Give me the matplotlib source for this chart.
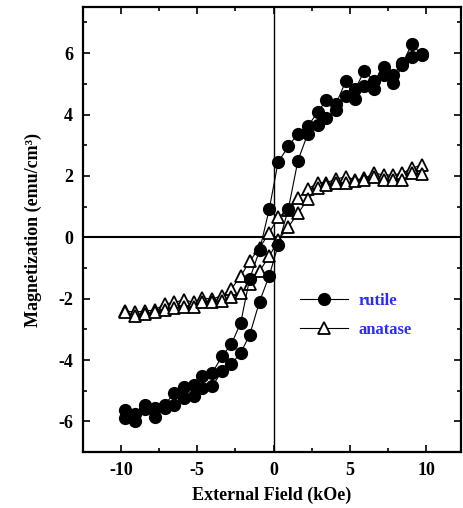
import matplotlib
matplotlib.use("Agg")
import matplotlib.pyplot as plt
from matplotlib.ticker import MultipleLocator

plt.rcParams["font.family"] = ["Liberation Serif", "DejaVu Serif"]
plt.rcParams["font.weight"] = "bold"
plt.rcParams["axes.unicode_minus"] = False

# field values (kOe), shared by all branches
field = [-9.74, -9.08, -8.43, -7.78, -7.12, -6.5, -5.87, -5.22, -4.67, -4.02,
         -3.37, -2.77, -2.15, -1.57, -0.92, -0.28, 0.3, 0.97, 1.6, 2.25,
         2.9, 3.45, 4.1, 4.75, 5.35, 5.95, 6.6, 7.25, 7.85, 8.45, 9.08, 9.72]

rutile_up = [-5.62, -5.75, -5.45, -5.55, -5.45, -5.07, -4.89, -4.82, -4.52, -4.42,
             -3.87, -3.49, -2.78, -1.36, -0.43, 0.92, 2.45, 2.96, 3.38, 3.62,
             4.08, 4.47, 4.35, 5.1, 4.82, 5.42, 5.1, 5.56, 5.3, 5.67, 6.3, 5.93]
rutile_down = [-5.9, -6.0, -5.6, -5.84, -5.55, -5.45, -5.24, -5.18, -4.9, -4.85,
               -4.36, -4.14, -3.76, -3.19, -2.1, -1.25, -0.26, 0.92, 2.5, 3.38,
               3.67, 3.89, 4.16, 4.6, 4.49, 4.93, 4.82, 5.3, 5.04, 5.6, 5.86, 5.97]

anatase_up = [-2.4, -2.44, -2.4, -2.37, -2.17, -2.12, -2.04, -2.12, -1.98, -2.01,
              -1.9, -1.68, -1.27, -0.78, -0.35, 0.15, 0.65, 0.9, 1.27, 1.57,
              1.78, 1.78, 1.89, 1.98, 1.87, 1.92, 2.09, 2.03, 2.03, 2.09, 2.25, 2.36]
anatase_down = [-2.45, -2.55, -2.5, -2.45, -2.37, -2.3, -2.26, -2.26, -2.1, -2.1,
                -2.07, -1.95, -1.82, -1.52, -1.1, -0.62, -0.1, 0.34, 0.78, 1.24,
                1.6, 1.72, 1.76, 1.78, 1.82, 1.87, 1.95, 1.87, 1.87, 1.87, 2.09, 2.07]

fig = plt.figure(figsize=(4.63, 5.08), dpi=100)
ax = fig.add_axes([0.179, 0.110, 0.817, 0.876])

ax.axhline(0, color="black", lw=1.5, zorder=1)
ax.axvline(0, color="black", lw=1.0, zorder=1)

tri = dict(marker="^", ms=8.5, mfc="white", mec="black", mew=1.3,
           color="black", lw=0.8, zorder=2)
circ = dict(marker="o", ms=8.5, mfc="black", mec="black",
            color="black", lw=0.8, zorder=3)

ax.plot(field, anatase_up, **tri)
ax.plot(field, anatase_down, **tri)
ax.plot(field, rutile_up, label="rutile", **circ)
ax.plot(field, rutile_down, **circ)
ax.plot([], [], label="anatase", **tri)

ax.set_xlim(-12.5, 12.3)
ax.set_ylim(-7, 7.5)
ax.xaxis.set_major_locator(MultipleLocator(5))
ax.xaxis.set_minor_locator(MultipleLocator(2.5))
ax.yaxis.set_major_locator(MultipleLocator(2))
ax.yaxis.set_minor_locator(MultipleLocator(1))
ax.tick_params(which="both", direction="in", top=True, right=True,
               labelsize=13, width=1.2, pad=7)
ax.tick_params(which="major", length=5)
ax.tick_params(which="minor", length=3)
for s in ax.spines.values():
    s.set_linewidth(1.6)

ax.set_xlabel("External Field (kOe)", fontsize=13, fontweight="bold", labelpad=6)
ax.set_ylabel("Magnetization (emu/cm³)", fontsize=13, fontweight="bold",
              labelpad=12)

ax.legend(loc="upper left", bbox_to_anchor=(0.574, 0.357), frameon=False,
          borderpad=0, borderaxespad=0, handlelength=2.9, handletextpad=0.6,
          labelspacing=0.75, labelcolor="#2b2bff",
          prop=dict(size=12, weight="bold"))

fig.savefig("out.png", dpi=100)
